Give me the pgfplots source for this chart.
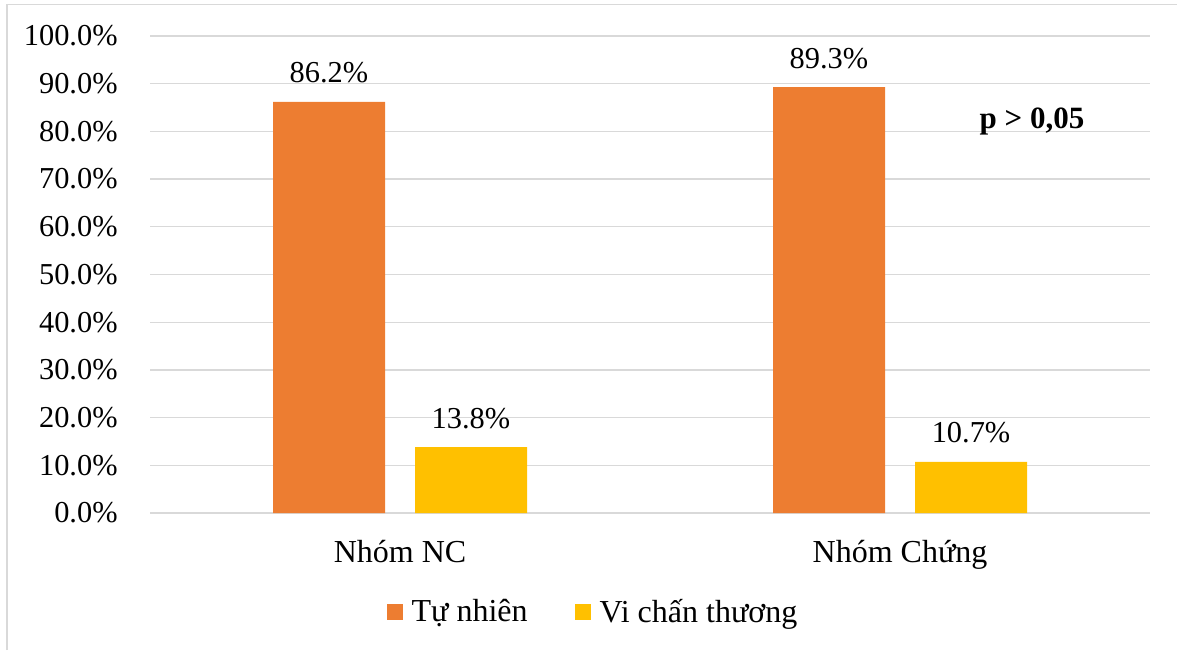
\documentclass[border=0pt]{standalone}
\usepackage{fontspec}
\setmainfont{Liberation Serif}
\usepackage{pgfplots}
\pgfplotsset{compat=1.18}

\definecolor{barOrange}{HTML}{ED7D31}
\definecolor{barYellow}{HTML}{FFC000}
\definecolor{gridGray}{HTML}{D9D9D9}

\begin{document}
\begin{tikzpicture}
  % page frame
  \path[use as bounding box] (0,0) rectangle (588.5pt,325pt);
  \draw[gridGray, line width=0.75pt] (3.5pt,0) -- (3.5pt,322.75pt) -- (588.5pt,322.75pt);

  \begin{axis}[
    at={(75pt,68.5pt)}, anchor=south west,
    scale only axis,
    width=500pt, height=238.5pt,
    ybar=15pt, bar width=56pt,
    xmin=-0.5, xmax=1.5,
    ymin=0, ymax=100,
    xtick={0,1},
    xticklabels={Nhóm NC, Nhóm Chứng},
    ytick={0,10,...,100},
    yticklabel={\pgfmathprintnumber[fixed, fixed zerofill, precision=1, assume math mode=true]{\tick}\%},
    major tick length=0pt,
    axis x line*=bottom, axis y line*=left,
    x axis line style={gridGray, line width=0.75pt},
    y axis line style={draw=none},
    ymajorgrids,
    major grid style={gridGray, line width=0.65pt},
    yticklabel style={anchor=east, inner sep=0pt, xshift=-16pt,
      font=\fontsize{15.2pt}{18pt}\selectfont, text=black},
    xticklabel style={anchor=base, inner sep=0pt, yshift=-24.5pt,
      font=\fontsize{16pt}{19pt}\selectfont, text=black},
    nodes near coords={\pgfmathprintnumber[fixed, fixed zerofill, precision=1, assume math mode=true]{\pgfplotspointmeta}\%},
    nodes near coords style={anchor=base, inner sep=0pt, yshift=9.5pt,
      font=\fontsize{15.2pt}{18pt}\selectfont, text=black},
    legend style={at={(0.444,-0.2075)}, anchor=center, draw=none, fill=none,
      legend columns=2, font=\fontsize{16pt}{19pt}\selectfont,
      /tikz/every odd column/.append style={column sep=2.5pt},
      /tikz/every even column/.append style={column sep=21.5pt}},
    legend image code/.code={\fill[#1] (0pt,-4pt) rectangle (8pt,4pt);},
    clip=false,
  ]
    \addplot[draw=none, fill=barOrange] coordinates {(0,86.2) (1,89.3)};
    \addlegendentry{Tự nhiên}
    \addplot[draw=none, fill=barYellow] coordinates {(0,13.8) (1,10.7)};
    \addlegendentry{Vi chấn thương}

    \node[anchor=base, inner sep=0pt, font=\fontsize{15.5pt}{18pt}\selectfont\bfseries]
      at (axis cs:1.264,80.7) {p > 0,05};
  \end{axis}
\end{tikzpicture}
\end{document}
